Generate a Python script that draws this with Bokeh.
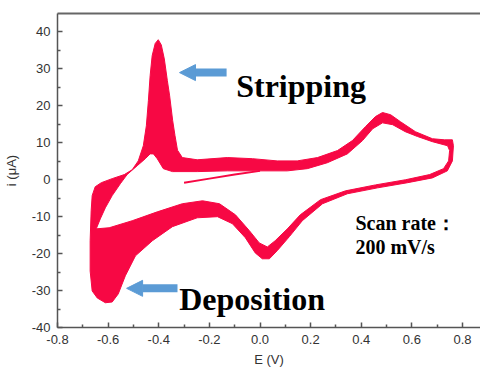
from bokeh.plotting import figure
from bokeh.models import (Range1d, FixedTicker, PrintfTickFormatter, LinearAxis,
                          Label, Arrow, NormalHead)
from bokeh.embed import file_html
from bokeh.resources import INLINE

# Outer envelope of all overlapping CV cycles (E in V, i in uA)
outer_E = [-0.663, -0.671, -0.671, -0.667, -0.663, -0.651, -0.627, -0.584, -0.536, -0.505,
           -0.481, -0.461, -0.449, -0.441, -0.434, -0.426, -0.414, -0.402, -0.390, -0.378,
           -0.366, -0.357, -0.345, -0.336, -0.326, -0.307, -0.248, -0.129, -0.030, 0.068,
           0.147, 0.227, 0.306, 0.365, 0.417, 0.456, 0.484, 0.516, 0.555, 0.614,
           0.681, 0.729, 0.760, 0.764, 0.760, 0.740, 0.681, 0.583, 0.464, 0.345,
           0.247, 0.167, 0.116, 0.068, 0.037, 0.009, -0.019, -0.058, -0.109, -0.168,
           -0.248, -0.346, -0.425, -0.492, -0.532, -0.560, -0.584, -0.611, -0.643]
outer_i = [-30.1, -24.7, -16.5, -8.4, -4.3, -1.9, -0.8, 0.3, 1.4, 2.7,
           5.1, 9.2, 14.6, 21.4, 28.2, 33.6, 36.9, 37.9, 36.5, 32.7,
           26.8, 22.7, 16.0, 12.0, 8.0, 6.0, 5.4, 6.0, 5.7, 5.1,
           5.1, 6.0, 7.9, 10.6, 14.4, 17.1, 18.2, 17.6, 15.7, 13.0,
           11.1, 10.8, 10.8, 9.2, 5.1, 2.4, 0.5, -0.8, -2.2, -3.8,
           -6.5, -11.1, -15.4, -19.2, -21.4, -21.4, -19.8, -15.7, -11.9, -10.0,
           -10.3, -12.7, -16.5, -20.6, -26.0, -30.9, -33.1, -33.3, -32.0]

# Inner envelope (hole of the loop band)
inner_E = [-0.647, -0.631, -0.611, -0.584, -0.552, -0.525, -0.485, -0.453, -0.434, -0.421,
           -0.406, -0.382, -0.346, -0.248, -0.129, -0.011, 0.108, 0.187, 0.266, 0.345,
           0.405, 0.445, 0.484, 0.524, 0.574, 0.622, 0.681, 0.741, 0.749, 0.745,
           0.725, 0.670, 0.575, 0.456, 0.338, 0.239, 0.159, 0.108, 0.060, 0.029,
           -0.003, -0.042, -0.097, -0.160, -0.227, -0.307, -0.406, -0.505, -0.596]
inner_i = [-13.3, -10.6, -7.6, -4.3, -1.1, 1.4, 3.8, 5.7, 7.0, 7.0,
           5.7, 3.0, 2.2, 2.2, 2.4, 2.4, 2.4, 3.0, 4.6, 7.0,
           10.6, 13.8, 15.4, 14.9, 13.0, 11.7, 10.3, 9.2, 7.9, 5.1,
           3.0, 1.4, 0.0, -1.4, -3.0, -5.4, -9.5, -13.3, -16.5, -18.2,
           -17.1, -13.8, -9.5, -6.5, -5.7, -6.5, -8.7, -11.1, -13.0]

# Initial sweep from open-circuit potential
init_E = [-0.30, -0.20, -0.10, 0.00]
init_i = [-0.8, 0.3, 1.4, 2.4]

x_ticks = [-0.8, -0.6, -0.4, -0.2, 0.0, 0.2, 0.4, 0.6, 0.8]
x_minor = [-0.7, -0.5, -0.3, -0.1, 0.1, 0.3, 0.5, 0.7]
y_ticks = [-40, -30, -20, -10, 0, 10, 20, 30, 40]
y_minor = [-35, -25, -15, -5, 5, 15, 25, 35]

RED = "#f70844"
BLUE = "#5b9bd5"
AX = "#555555"
TXT = "#333333"

p = figure(frame_width=423, frame_height=314,
           x_range=Range1d(-0.8, 0.871), y_range=Range1d(-40, 45),
           output_backend="svg", toolbar_location=None,
           min_border_left=55, min_border_right=0, min_border_top=13, min_border_bottom=37)
p.xgrid.visible = False
p.ygrid.visible = False
p.outline_line_color = None
p.background_fill_color = "white"
p.border_fill_color = "white"

for ax in (p.xaxis[0], p.yaxis[0]):
    ax.axis_line_color = AX
    ax.axis_line_width = 1.5
    ax.major_tick_line_color = AX
    ax.major_tick_line_width = 1.5
    ax.major_tick_in = 5
    ax.major_tick_out = 0
    ax.minor_tick_line_color = AX
    ax.minor_tick_line_width = 1.5
    ax.minor_tick_in = 3
    ax.minor_tick_out = 0
    ax.major_label_text_font = "Liberation Sans"
    ax.major_label_text_font_size = "13px"
    ax.major_label_text_color = TXT
    ax.major_label_standoff = 7
    ax.axis_label_text_font = "Liberation Sans"
    ax.axis_label_text_font_size = "13px"
    ax.axis_label_text_font_style = "normal"
    ax.axis_label_text_color = TXT

p.xaxis[0].ticker = FixedTicker(ticks=x_ticks, minor_ticks=x_minor)
p.xaxis[0].formatter = PrintfTickFormatter(format="%.1f")
p.xaxis[0].axis_label = "E (V)"
p.xaxis[0].axis_label_standoff = 5
p.yaxis[0].ticker = FixedTicker(ticks=y_ticks, minor_ticks=y_minor)
p.yaxis[0].formatter = PrintfTickFormatter(format="%d")
p.yaxis[0].axis_label = "i (\u03bcA)"
p.yaxis[0].axis_label_standoff = 10

top = LinearAxis(ticker=FixedTicker(ticks=[]), axis_line_color="#666666", axis_line_width=2,
                 major_tick_line_color=None, minor_tick_line_color=None,
                 major_label_standoff=0, major_label_text_font_size="0px")
p.add_layout(top, "above")

p.multi_polygons(xs=[[[outer_E, inner_E]]], ys=[[[outer_i, inner_i]]],
                 fill_color=RED, line_color=RED, line_width=1)
p.line(init_E, init_i, line_color=RED, line_width=2)

p.add_layout(Arrow(end=NormalHead(size=16, fill_color=BLUE, line_color=BLUE),
                   x_start=-0.132, y_start=29.0, x_end=-0.318, y_end=29.0,
                   line_color=BLUE, line_width=8))
p.add_layout(Arrow(end=NormalHead(size=16, fill_color=BLUE, line_color=BLUE),
                   x_start=-0.326, y_start=-29.4, x_end=-0.527, y_end=-29.4,
                   line_color=BLUE, line_width=8))

for txt, x, y, fs in [("Stripping", -0.094, 25.5, "32px"),
                      ("Deposition", -0.319, -32.2, "32px"),
                      ("Scan rate\uff1a", 0.377, -11.6, "20px"),
                      ("200 mV/s", 0.377, -18.1, "20px")]:
    p.add_layout(Label(x=x, y=y, text=txt, text_font="Liberation Serif",
                       text_font_style="bold", text_font_size=fs, text_color="black",
                       text_baseline="alphabetic", text_align="left"))

open("out.html", "w").write(file_html(p, INLINE))
